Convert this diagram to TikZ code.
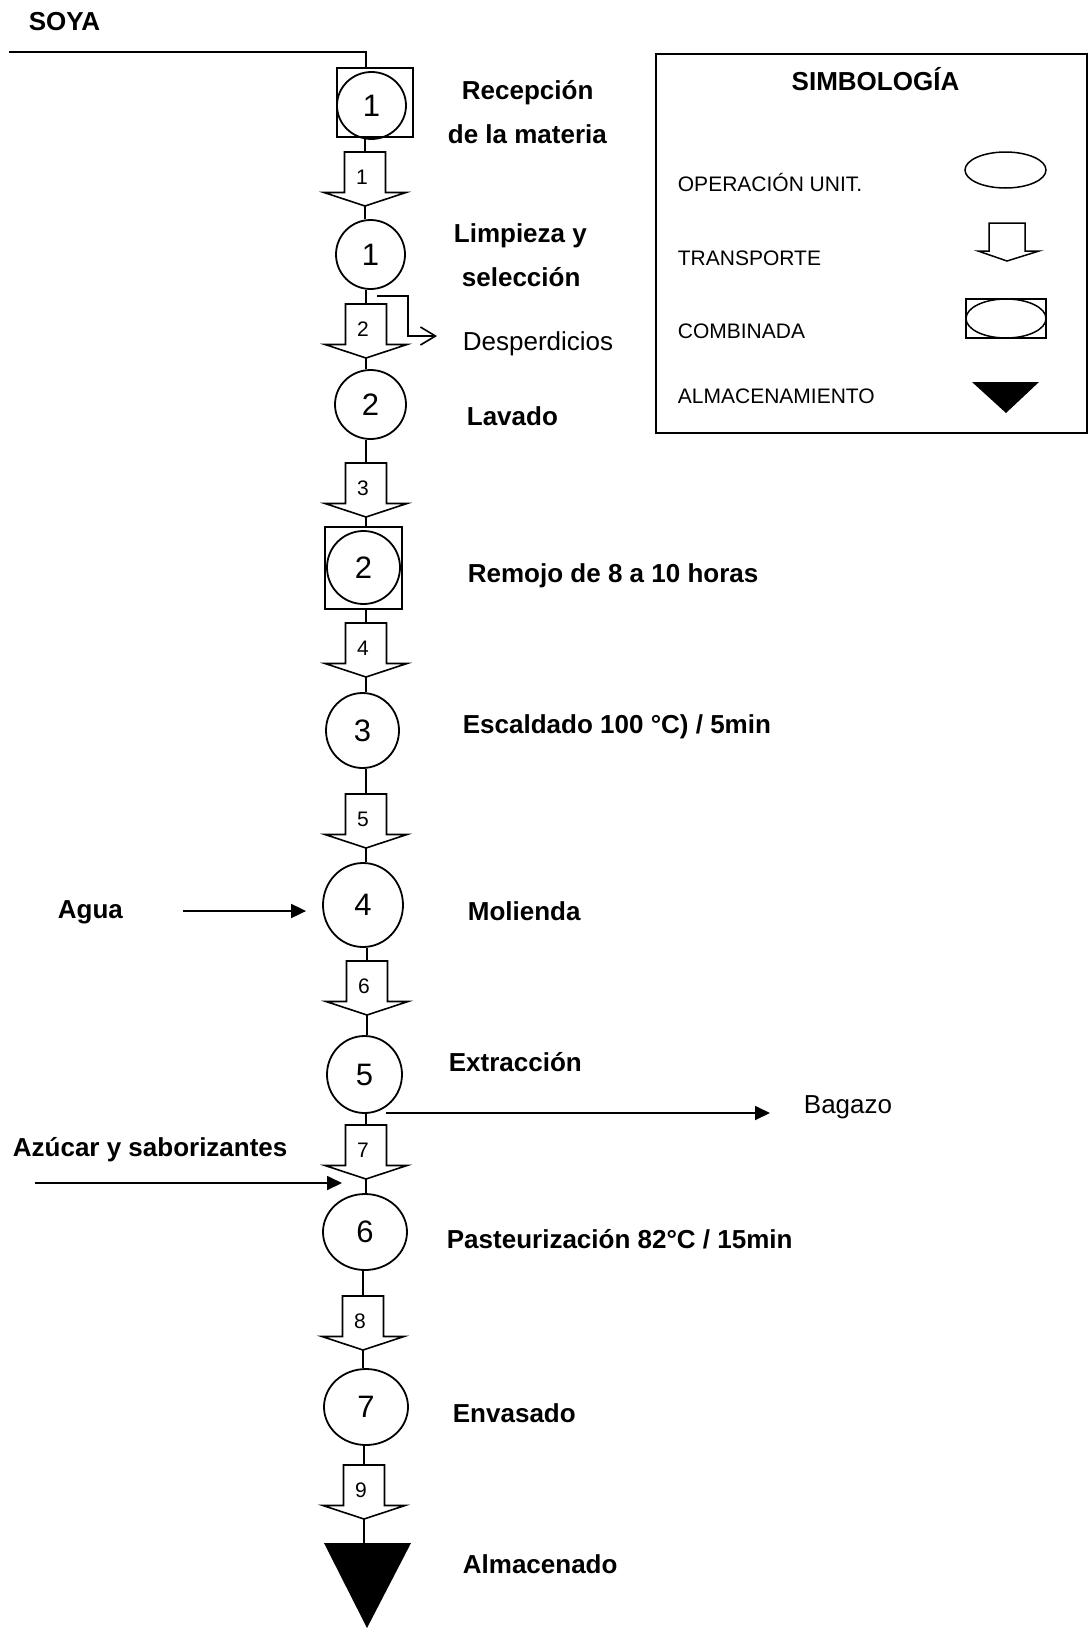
\documentclass[tikz,border=0pt]{standalone}
\usepackage{fontspec}
\setmainfont{Liberation Sans}
\usetikzlibrary{shapes.geometric,arrows.meta}
\newcommand\transparrow[4]{%
  \draw[tshape] ({#2-20.5},#3) -- ({#2+20.5},#3) -- ({#2+20.5},{#3+40.5}) -- ({#2+41},{#3+40.5}) -- (#2,{#3+54}) -- ({#2-41},{#3+40.5}) -- ({#2-20.5},{#3+40.5}) -- cycle;
  \coordinate (#1t) at (#2,#3);
  \coordinate (#1b) at (#2,{#3+54});
  \node[tnum] (#1l) at ({#2-3},{#3+25}) {#4};
}
\begin{document}
\begin{tikzpicture}[x=1pt,y=-1pt, line width=1.8pt,
  lbl/.style={font=\fontsize{26}{30}\selectfont\bfseries, anchor=base west, inner sep=0},
  reg/.style={font=\fontsize{26}{30}\selectfont, anchor=base west, inner sep=0},
  leg/.style={font=\fontsize{21}{25}\selectfont, anchor=base west, inner sep=0},
  op/.style={draw, ellipse, inner sep=0, font=\fontsize{31}{34}\selectfont},
  sqbox/.style={draw, rectangle, inner sep=0},
  tshape/.style={line width=1.6pt, line join=miter},
  tnum/.style={font=\fontsize{21}{24}\selectfont, inner sep=0},
  flow/.style={-{Triangle[length=15pt,width=14pt]}},
  thin/.style={line width=1.5pt},
]
\useasboundingbox (0,0) rectangle (1089,1628);

% ---- process column ----
\node[sqbox, minimum width=76pt, minimum height=69pt] (box1) at (375,102.5) {};
\node[op, minimum width=69pt, minimum height=67pt] (c1) at (371.5,105.5) {1};
\node[op, minimum width=69pt, minimum height=69pt] (c2) at (370.5,254.5) {1};
\node[op, minimum width=71pt, minimum height=69pt] (c3) at (370.5,404.5) {2};
\node[sqbox, minimum width=77pt, minimum height=82pt] (box2) at (363.5,568) {};
\node[op, minimum width=73pt, minimum height=73pt] (c4) at (363.5,567.5) {2};
\node[op, minimum width=73pt, minimum height=75pt] (c5) at (362.5,730.5) {3};
\node[op, minimum width=80pt, minimum height=84pt] (c6) at (363,905) {4};
\node[op, minimum width=75pt, minimum height=77pt] (c7) at (364.5,1074.5) {5};
\node[op, minimum width=84pt, minimum height=76pt] (c8) at (365,1232) {6};
\node[op, minimum width=84pt, minimum height=76pt] (c9) at (366,1407) {7};
\fill (324,1543) -- (411,1543) -- (367,1628) -- cycle;
\coordinate (tri) at (367,1543);

\transparrow{a1}{365}{152}{1}
\transparrow{a2}{366}{304}{2}
\transparrow{a3}{366}{463}{3}
\transparrow{a4}{366}{623}{4}
\transparrow{a5}{366}{794}{5}
\transparrow{a6}{367}{961}{6}
\transparrow{a7}{366}{1125}{7}
\transparrow{a8}{363}{1296}{8}
\transparrow{a9}{364}{1465}{9}

% ---- flow line ----
\coordinate (soya0) at (9,52);
\coordinate (soya1) at (366,52);
\draw (soya0) -- (soya1) -- (soya1 |- box1.north);
\draw (a1t) -- (a1t |- box1.south);
\draw (a1b) -- (a1b |- c2.north);
\draw (a2t) -- (a2t |- c2.south);
\draw (a2b) -- (a2b |- c3.north);
\draw (a3t) -- (a3t |- c3.south);
\draw (a3b) -- (a3b |- box2.north);
\draw (a4t) -- (a4t |- box2.south);
\draw (a4b) -- (a4b |- c5.north);
\draw (a5t) -- (a5t |- c5.south);
\draw (a5b) -- (a5b |- c6.north);
\draw (a6t) -- (a6t |- c6.south);
\draw (a6b) -- (a6b |- c7.north);
\draw (a7t) -- (a7t |- c7.south);
\draw (a7b) -- (a7b |- c8.north);
\draw (a8t) -- (a8t |- c8.south);
\draw (a8b) -- (a8b |- c9.north);
\draw (a9t) -- (a9t |- c9.south);
\draw (a9b) -- (a9b |- tri);

% ---- side streams ----
\coordinate (d0) at (377,296);
\coordinate (d1) at (437,336);
\draw[line width=1.6pt, -{Straight Barb[length=15pt,width=18pt]}] (d0) -- (408,296) -- (408,336) -- (d1);
\coordinate (b0) at (386,1113);
\coordinate (b1) at (770,1113);
\draw[flow] (b0) -- (b1);
\coordinate (w0) at (183,911);
\draw[flow] (w0) -- ([xshift=-16pt]c6.west |- w0);
\coordinate (s0) at (35,1183);
\coordinate (s1) at (342,1183);
\draw[flow] (s0) -- (s1);

% ---- labels ----
\node[lbl] (soya) at (28,30) {SOYA};
\node[lbl] (t1) at (461,99) {Recepción};
\node[lbl] (t1b) at (447,143) {de la materia};
\node[lbl] (t2) at (453,242) {Limpieza y};
\node[lbl] (t2b) at (461,286) {selección};
\node[reg] (desp) at (462,350) {Desperdicios};
\node[lbl] (t3) at (466,425) {Lavado};
\node[lbl] (t4) at (467,582) {Remojo de 8 a 10 horas};
\node[lbl] (t5) at (462,733) {Escaldado 100 °C) / 5min};
\node[lbl] (agua) at (57,918) {Agua};
\node[lbl] (t6) at (467,920) {Molienda};
\node[lbl] (t7) at (448,1071) {Extracción};
\node[reg] (bag) at (803,1113) {Bagazo};
\node[lbl] (azu) at (12,1156) {Azúcar y saborizantes};
\node[lbl] (t8) at (446,1248) {Pasteurización 82°C / 15min};
\node[lbl] (t9) at (452,1422) {Envasado};
\node[lbl] (t10) at (462,1573) {Almacenado};

% ---- legend ----
\node[draw, line width=1.8pt, minimum width=431pt, minimum height=379pt, inner sep=0] (legend) at (871.5,243.5) {};
\node[lbl, anchor=base] (ltitle) at (875.5,90) {SIMBOLOGÍA};
\node[leg] (lop) at (677,191) {OPERACIÓN UNIT.};
\node[leg] (ltr) at (677,265) {TRANSPORTE};
\node[leg] (lco) at (677,338) {COMBINADA};
\node[leg] (lal) at (677,403) {ALMACENAMIENTO};
\node[draw, thin, ellipse, inner sep=0, minimum width=81pt, minimum height=36pt] (sop) at (1005.5,170) {};
\draw[thin, line join=miter] (989,223) -- (1025,223) -- (1025,251) -- (1039,251) -- (1007,261) -- (978,251) -- (989,251) -- cycle;
\node[draw, thin, rectangle, inner sep=0, minimum width=80pt, minimum height=39pt] (sco) at (1006,318.5) {};
\node[draw, thin, ellipse, inner sep=0, minimum width=80pt, minimum height=39pt] (scoe) at (1006,318.5) {};
\fill (972,382) -- (1039,382) -- (1006,413) -- cycle;
\end{tikzpicture}
\end{document}
